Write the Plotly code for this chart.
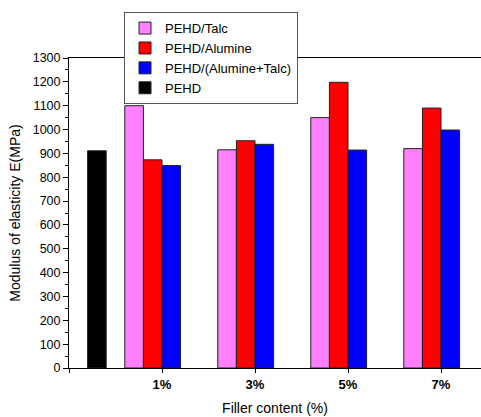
import plotly.graph_objects as go

categories = ["", "1%", "3%", "5%", "7%"]
cat_pos = [0, 1, 2, 3, 4]
talc = [1100, 915, 1050, 920]
alumine = [873, 953, 1198, 1090]
mix = [849, 938, 914, 998]
pehd = [911]

line = dict(color="#222222", width=1)
fig = go.Figure()
fig.add_trace(go.Bar(name="PEHD/Talc", x=cat_pos[1:], y=talc, marker=dict(color="#FF80FF", line=line)))
fig.add_trace(go.Bar(name="PEHD/Alumine", x=cat_pos[1:], y=alumine, marker=dict(color="#FF0000", line=line)))
fig.add_trace(go.Bar(name="PEHD/(Alumine+Talc)", x=cat_pos[1:], y=mix, marker=dict(color="#0000FF", line=line)))
fig.add_trace(go.Bar(name="PEHD", x=cat_pos[:1], y=pehd, marker=dict(color="#000000", line=line)))

font = "Liberation Sans, Arial, sans-serif"
fig.update_layout(
    width=481, height=417,
    margin=dict(l=69, r=0, t=58, b=49, autoexpand=False),
    barmode="group", bargap=0.2, bargroupgap=0,
    plot_bgcolor="white", paper_bgcolor="white",
    font=dict(family=font, size=12, color="black"),
    showlegend=True,
    legend=dict(x=0.1335, y=1.148, xanchor="left", yanchor="top",
                bgcolor="white", bordercolor="#555555", borderwidth=1,
                font=dict(size=13), tracegroupgap=0, itemwidth=30),
    xaxis=dict(range=[0, 4.43], tickvals=cat_pos,
               ticktext=["<b>" + c + "</b>" if c else "" for c in categories],
               showline=True, linecolor="black", linewidth=1, mirror=True,
               ticks="outside", ticklen=4, tickcolor="black",
               showgrid=False, zeroline=False,
               tickfont=dict(size=13),
               title=dict(text="Filler content (%)", font=dict(size=14), standoff=12)),
    yaxis=dict(range=[0, 1300], dtick=100,
               showline=True, linecolor="black", linewidth=1,
               ticks="outside", ticklen=5, tickcolor="black",
               minor=dict(ticks="outside", ticklen=3, dtick=50, tickcolor="black"),
               showgrid=False, zeroline=False,
               tickfont=dict(size=12.5),
               title=dict(text="Modulus of elasticity E(MPa)", font=dict(size=14), standoff=8)),
)
fig.write_html("out.html", config={"displayModeBar": False},
               post_script="document.body.style.margin='0';document.body.style.overflow='hidden';")
